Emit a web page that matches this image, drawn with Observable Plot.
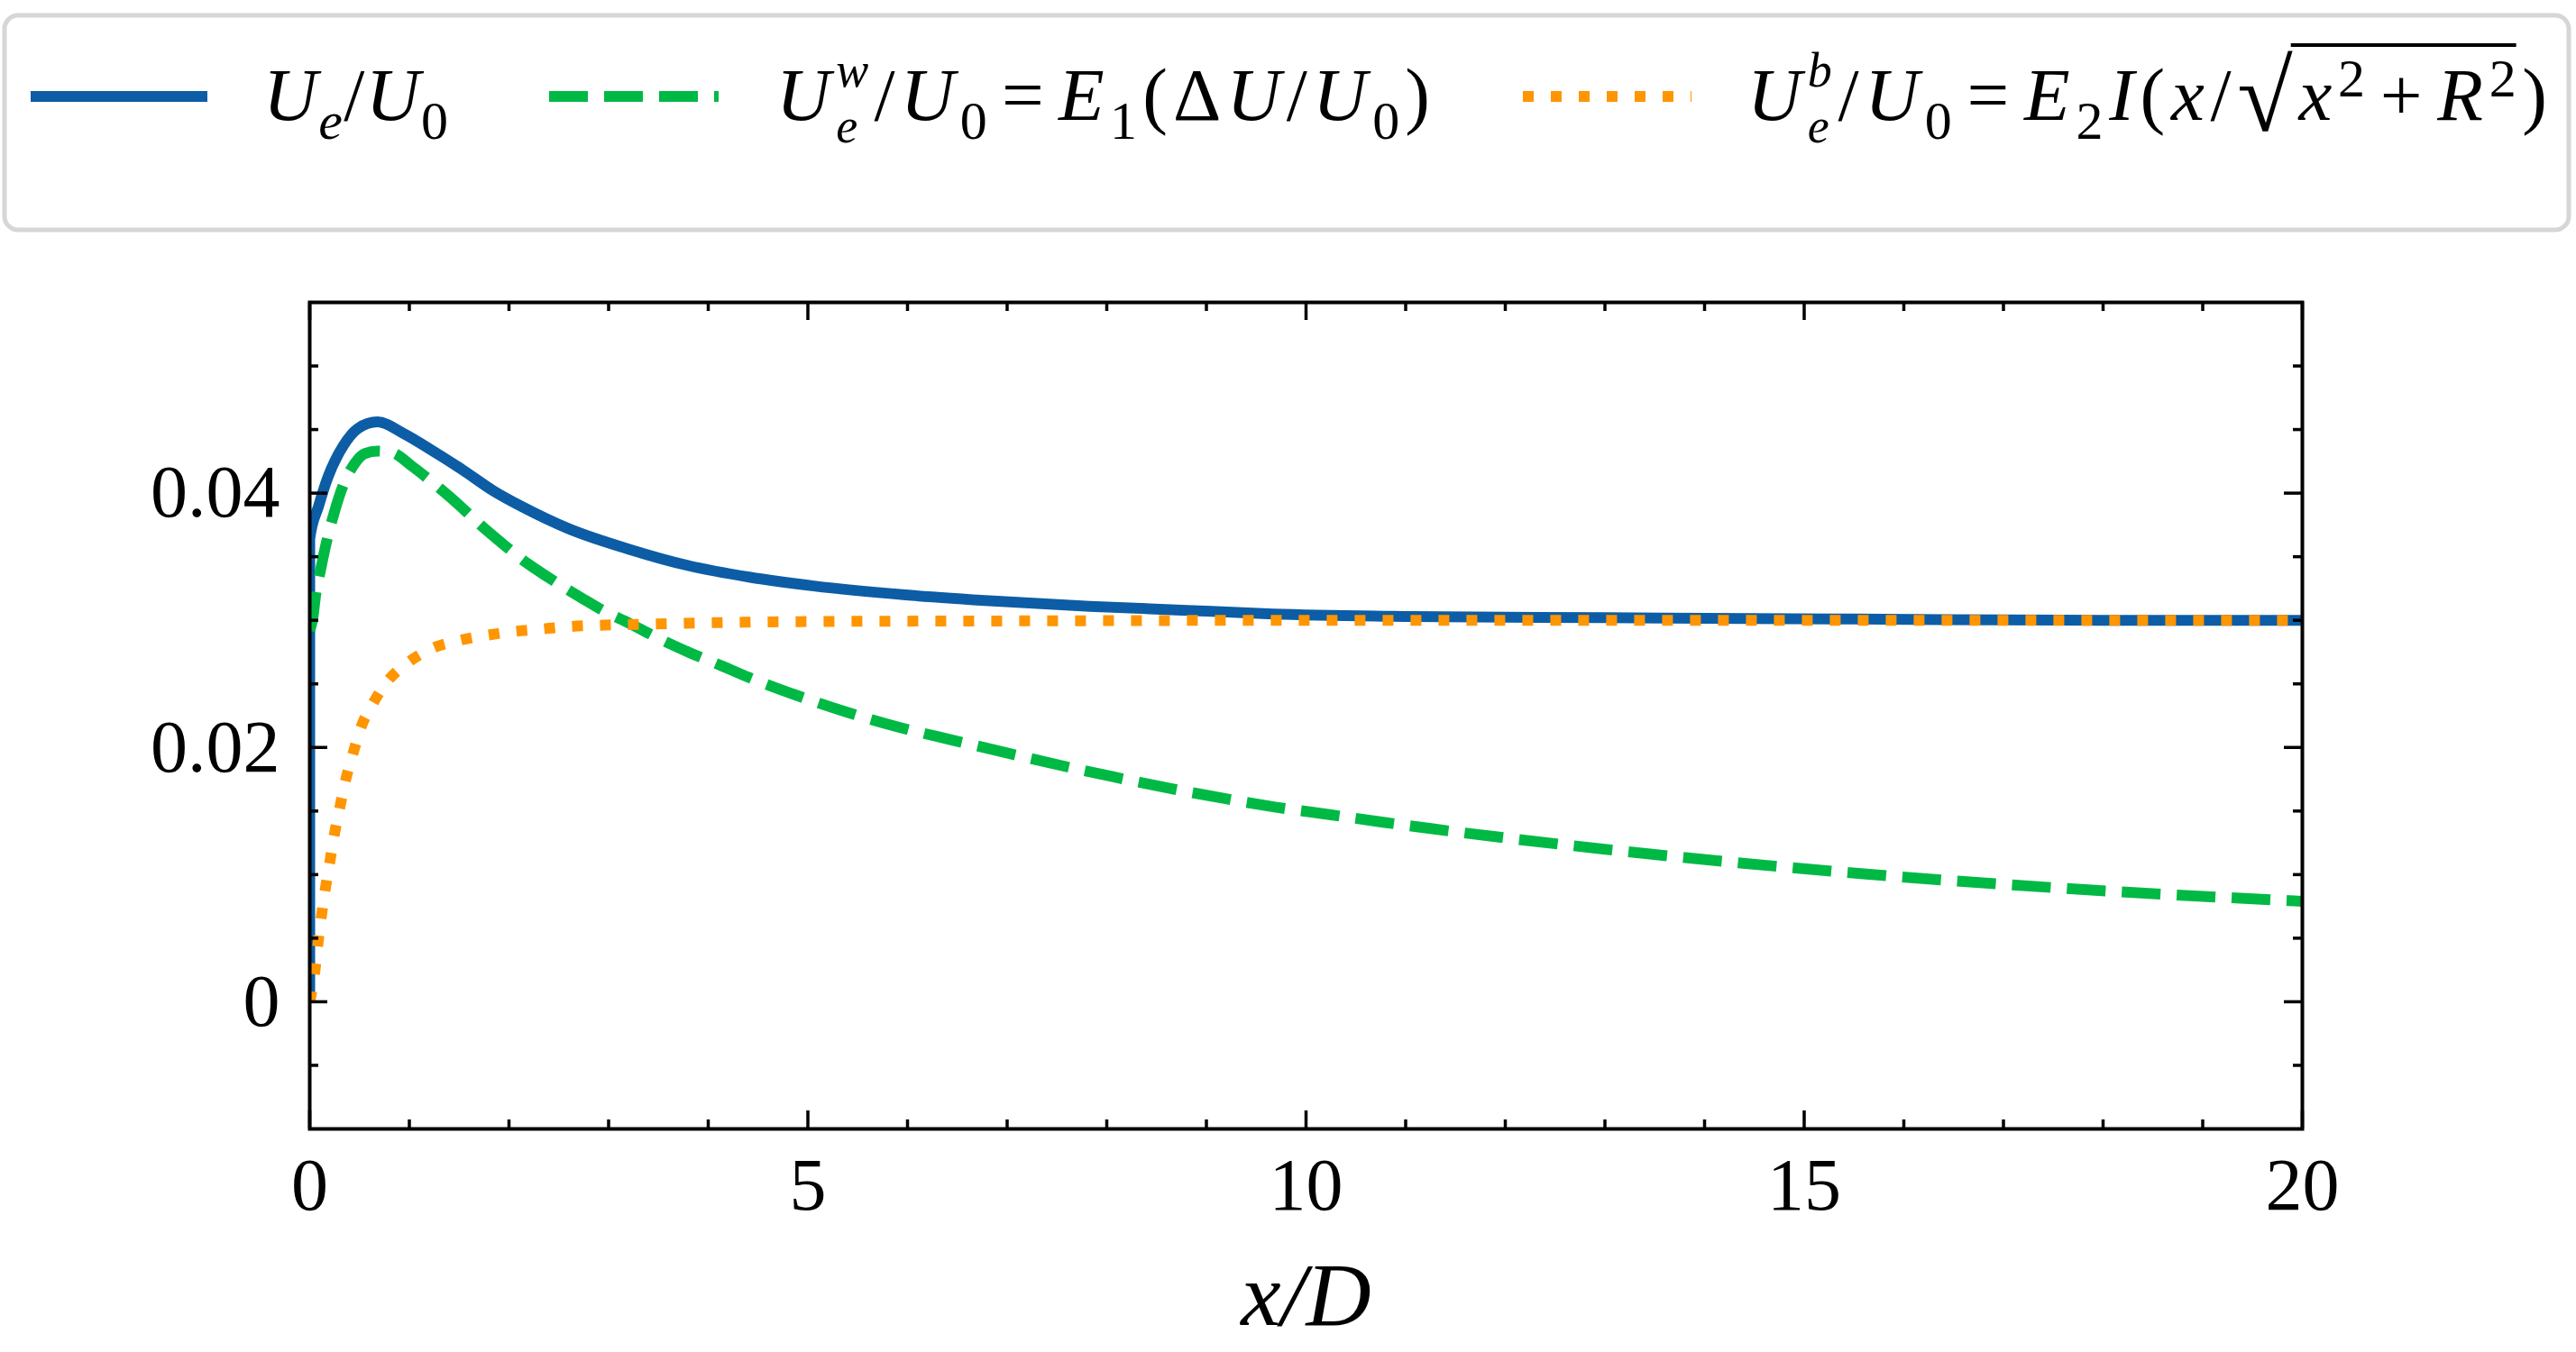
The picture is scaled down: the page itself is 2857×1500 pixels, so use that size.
<!DOCTYPE html>
<html><head><meta charset="utf-8">
<script src="https://cdn.jsdelivr.net/npm/d3@7"></script>
<script src="https://cdn.jsdelivr.net/npm/@observablehq/plot@0.6"></script>
<style>
html,body{margin:0;padding:0;background:#fff;}
#legend svg,#chart svg{display:block;}
</style></head><body>
<div id="legend"></div>
<div id="chart"></div>
<script>
// ---------- data ----------
const blueX = [0, 0, 0.09, 0.18, 0.335, 0.486, 0.68, 0.94, 1.24, 1.54, 1.84, 2.14, 2.60, 3.20, 3.80, 4.41, 5.06, 5.98, 6.90, 7.83, 8.75, 9.67, 11.06, 13.0, 15.5, 18.0, 20.0];
const blueY = [0, 0.0364, 0.0390, 0.0412, 0.0437, 0.0451, 0.0456, 0.0447, 0.0433, 0.0418, 0.0402, 0.0389, 0.0372, 0.0356, 0.0343, 0.0334, 0.0327, 0.0320, 0.0315, 0.0311, 0.0308, 0.0305, 0.0303, 0.0302, 0.0301, 0.0300, 0.0300];

const greenX = [0, 0.03, 0.06, 0.11, 0.17, 0.24, 0.34, 0.44, 0.55, 0.68, 0.82, 1.03, 1.24, 1.48, 1.70, 1.94, 2.18, 2.39, 2.72, 2.96, 3.20, 3.47, 3.80, 4.17, 4.41, 4.85, 5.38, 5.91, 6.44, 6.98, 7.53, 8.06, 8.62, 9.17, 9.70, 10.25, 10.79, 11.27, 13.23, 15.54, 17.85, 20];
const greenY = [0.0292, 0.0301, 0.0320, 0.0340, 0.0362, 0.0383, 0.0407, 0.0422, 0.0431, 0.0433, 0.0432, 0.0421, 0.0408, 0.0392, 0.0376, 0.0360, 0.0345, 0.0334, 0.0318, 0.0307, 0.0298, 0.0287, 0.0275, 0.0263, 0.0255, 0.0242, 0.0228, 0.0216, 0.0206, 0.0196, 0.0186, 0.0177, 0.0168, 0.0160, 0.0153, 0.0147, 0.0141, 0.0136, 0.0118, 0.0101, 0.0088, 0.0079];

const orangeX = [0, 0.05, 0.08, 0.115, 0.155, 0.20, 0.246, 0.30, 0.356, 0.43, 0.51, 0.63, 0.78, 0.99, 1.23, 1.49, 1.76, 2.03, 2.31, 2.59, 2.87, 3.42, 3.98, 5, 7, 10, 15, 20];
const orangeY = [0, 0.0023, 0.0044, 0.0066, 0.0088, 0.0109, 0.0131, 0.0152, 0.0173, 0.0194, 0.0215, 0.0234, 0.0252, 0.0267, 0.0278, 0.0284, 0.0288, 0.0291, 0.0293, 0.0295, 0.0296, 0.0297, 0.0298, 0.0299, 0.02995, 0.0300, 0.0300, 0.0300];

const xTickLabels = [0, 5, 10, 15, 20];
const yTickLabels = [0, 0.02, 0.04];
const xMinorTicks = [1, 2, 3, 4, 6, 7, 8, 9, 11, 12, 13, 14, 16, 17, 18, 19];
const yMinorTicks = [-0.005, 0.005, 0.01, 0.015, 0.025, 0.03, 0.035, 0.045, 0.05];
const xAxisLabel = "x/D";

// ---------- styles ----------
const colors = ["#0C5DA5", "#00B945", "#FF9500"];
const dashes = [null, "43 18", "12 19"];
const FONT = "'Liberation Serif','Times New Roman',serif";

// ---------- legend ----------
const W = 2857;
const leg = d3.select("#legend").append("svg").attr("width", W).attr("height", 270)
  .style("font-family", FONT);
leg.append("rect").attr("x", 5).attr("y", 17).attr("width", 2844).attr("height", 238).attr("rx", 15)
  .attr("fill", "#fff").attr("stroke", "#d6d6d6").attr("stroke-width", 5);

const handles = [[40, 224], [609, 797], [1689, 1876]];
handles.forEach(([a, b], i) => {
  const l = leg.append("line").attr("x1", a).attr("x2", b).attr("y1", 107).attr("y2", 107)
    .attr("stroke", colors[i]).attr("stroke-width", 12)
    .attr("stroke-linecap", i === 0 ? "square" : "butt");
  if (dashes[i]) l.attr("stroke-dasharray", dashes[i]);
});

const It = t => ({t, it: true});
const Rm = t => ({t});
const Sub = (t, it) => ({t, it, size: 60, dy: 21});
const SSub = (t) => ({t, it: true, size: 54, dy: 25});   // subscript under a superscript
const SSup = (t) => ({t, it: true, size: 54, dy: -37});  // superscript over a subscript
const labels = [
  [It("U"), Sub("e", true), Rm("/"), It("U"), Sub("0")],
  [It("U"), {stack: [SSub("e"), SSup("w")]}, Rm("/"), It("U"), Sub("0"), {gap: 10}, Rm("="), {gap: 10},
   It("E"), Sub("1"), Rm("("), Rm("Δ"), It("U"), Rm("/"), It("U"), Sub("0"), Rm(")")],
  [It("U"), {stack: [SSub("e"), SSup("b")]}, Rm("/"), It("U"), Sub("0"), {gap: 10}, Rm("="), {gap: 10},
   It("E"), Sub("2"), It("I"), Rm("("), It("x"), Rm("/"), {t: "√", size: 112, dy: 12}, {ol: "start"},
   It("x"), {t: "2", size: 60, dy: -26}, {gap: 10}, Rm("+"), {gap: 10}, It("R"), {t: "2", size: 60, dy: -26}, {ol: "end"}, Rm(")")]
];
const labelSpan = [[292, 497], [861, 1586], [1938, 2825]];

function mathLabel(parent, x0, base, atoms, target) {
  const meas = parent.append("text");
  const widths = atoms.map(a => {
    if (a.gap != null || a.ol) return 0;
    let w = 0;
    for (const s of (a.stack || [a])) {
      meas.attr("font-size", s.size || 83).attr("font-style", s.it ? "italic" : "normal").text(s.t);
      w = Math.max(w, meas.node().getComputedTextLength());
    }
    return w;
  });
  meas.remove();
  const nGlyph = atoms.filter(a => a.gap == null && !a.ol).length;
  const natural = d3.sum(widths) + d3.sum(atoms, a => a.gap || 0);
  const extra = (target - natural) / (nGlyph - 1);
  const text = parent.append("text").attr("fill", "#000");
  let x = x0, olStart = 0, first = true;
  atoms.forEach((a, i) => {
    if (a.gap != null) { x += a.gap; return; }
    if (a.ol === "start") { olStart = x - 2; return; }
    if (a.ol === "end") {
      parent.append("line").attr("x1", olStart).attr("x2", x).attr("y1", base - 83).attr("y2", base - 83)
        .attr("stroke", "#000").attr("stroke-width", 4);
      return;
    }
    if (!first) x += extra;
    first = false;
    (a.stack || [a]).forEach(s => {
      text.append("tspan").attr("x", x).attr("y", base + (s.dy || 0))
        .attr("font-size", s.size || 83).attr("font-style", s.it ? "italic" : "normal").text(s.t);
    });
    x += widths[i];
  });
}
labels.forEach((atoms, i) => mathLabel(leg, labelSpan[i][0], 133, atoms, labelSpan[i][1] - labelSpan[i][0]));

// ---------- chart ----------
const toRows = (xs, ys) => xs.map((x, i) => ({x, y: ys[i]}));
const blue = toRows(blueX, blueY), green = toRows(greenX, greenY), orange = toRows(orangeX, orangeY);

const H = 1230, mT = 65, mB = 248, mL = 343, mR = 304;
const plotH = H - mT - mB, plotW = W - mL - mR;
const MAJ = 20, MIN = 10, TW = 3.5;

const chart = Plot.plot({
  width: W, height: H,
  marginTop: mT, marginBottom: mB, marginLeft: mL, marginRight: mR,
  style: {fontFamily: FONT, fontSize: "82px", background: "#fff", color: "#000"},
  x: {domain: [0, 20]},
  y: {domain: [-0.01, 0.055]},
  marks: [
    Plot.line(blue, {x: "x", y: "y", stroke: colors[0], strokeWidth: 12, curve: "monotone-x", clip: true, strokeLinecap: "butt"}),
    Plot.line(green, {x: "x", y: "y", stroke: colors[1], strokeWidth: 12, curve: "monotone-x", clip: true, strokeLinecap: "butt", strokeDasharray: dashes[1]}),
    Plot.line(orange, {x: "x", y: "y", stroke: colors[2], strokeWidth: 12, curve: "monotone-x", clip: true, strokeLinecap: "butt", strokeDasharray: dashes[2]}),
    // inward ticks on all four sides
    Plot.ruleX(xTickLabels, {x: d => d, insetTop: plotH - MAJ, strokeWidth: TW}),
    Plot.ruleX(xTickLabels, {x: d => d, insetBottom: plotH - MAJ, strokeWidth: TW}),
    Plot.ruleX(xMinorTicks, {x: d => d, insetTop: plotH - MIN, strokeWidth: TW}),
    Plot.ruleX(xMinorTicks, {x: d => d, insetBottom: plotH - MIN, strokeWidth: TW}),
    Plot.ruleY(yTickLabels, {y: d => d, insetRight: plotW - MAJ, strokeWidth: TW}),
    Plot.ruleY(yTickLabels, {y: d => d, insetLeft: plotW - MAJ, strokeWidth: TW}),
    Plot.ruleY(yMinorTicks, {y: d => d, insetRight: plotW - MIN, strokeWidth: TW}),
    Plot.ruleY(yMinorTicks, {y: d => d, insetLeft: plotW - MIN, strokeWidth: TW}),
    Plot.frame({stroke: "#000", strokeWidth: 4}),
    Plot.axisX(xTickLabels, {tickSize: 0, tickPadding: 31, fontSize: 82, label: null}),
    Plot.axisY(yTickLabels, {tickSize: 0, tickPadding: 33, fontSize: 82, label: null,
      tickFormat: d => d === 0 ? "0" : d.toFixed(2)}),
    Plot.text([xAxisLabel], {frameAnchor: "bottom", text: d => d, dy: 217, fontSize: 100,
      fontStyle: "italic", lineAnchor: "bottom", fill: "#000"})
  ]
});
document.getElementById("chart").appendChild(chart);
</script></body></html>
